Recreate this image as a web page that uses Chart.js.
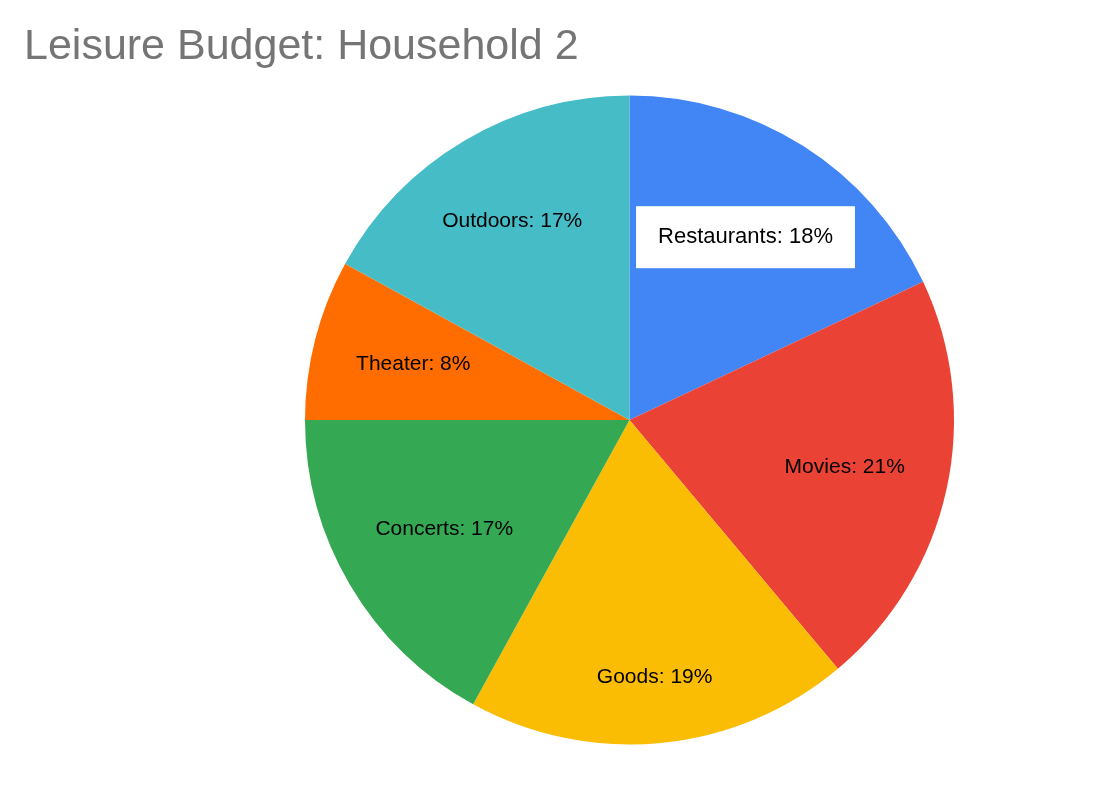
<!DOCTYPE html>
<html>
<head>
<meta charset="utf-8">
<title>Leisure Budget: Household 2</title>
<script src="https://cdn.jsdelivr.net/npm/chart.js@4"></script>
<style>
  html, body { margin: 0; padding: 0; background: #ffffff; }
  #wrap { width: 1098px; height: 796px; }
</style>
</head>
<body>
<div id="wrap"><canvas id="pie" width="1098" height="796"></canvas></div>
<script>
const chartTitle = 'Leisure Budget: Household 2';
const categories = ['Restaurants', 'Movies', 'Goods', 'Concerts', 'Theater', 'Outdoors'];
const shares = [18.0, 20.9, 19.1, 17.0, 8.0, 17.0];
const sliceColors = ['#4285F4', '#EA4335', '#FBBC04', '#34A853', '#FF6D01', '#46BDC6'];
const highlighted = 0;

const FONT = 'Arial, "Liberation Sans", sans-serif';

// title top-left, like the sheets chart header
const titlePlugin = {
    id: 'sheetTitle',
    afterDraw(chart) {
        const ctx = chart.ctx;
        ctx.save();
        ctx.font = '43px ' + FONT;
        ctx.fillStyle = '#757575';
        ctx.textAlign = 'left';
        ctx.textBaseline = 'alphabetic';
        ctx.fillText(chartTitle, 24, 59);
        ctx.restore();
    }
};

// "Name: NN%" inside each slice; the label slides along the mid angle
// until its outer corner touches a circle at ~87% of the radius
const sliceLabels = {
    id: 'sliceLabels',
    afterDatasetsDraw(chart) {
        const ctx = chart.ctx;
        const meta = chart.getDatasetMeta(0);
        const data = chart.data.datasets[0].data;
        const total = data.reduce((a, b) => a + b, 0);

        ctx.save();
        ctx.textAlign = 'center';
        ctx.textBaseline = 'middle';

        meta.data.forEach((arc, i) => {
            const p = arc.getProps(['x', 'y', 'startAngle', 'endAngle', 'outerRadius'], true);
            const mid = (p.startAngle + p.endAngle) / 2;
            const ux = Math.cos(mid);
            const uy = Math.sin(mid);
            const text = chart.data.labels[i] + ': ' + Math.round(data[i] / total * 100) + '%';

            ctx.font = (i === highlighted ? '22px ' : '21px ') + FONT;
            const hw = ctx.measureText(text).width / 2;
            const hh = 12;
            const reach = p.outerRadius * 0.868;
            const b = Math.abs(ux) * hw + Math.abs(uy) * hh;
            const c = hw * hw + hh * hh - reach * reach;
            const t = -b + Math.sqrt(b * b - c);

            const x = p.x + ux * t;
            const y = p.y + uy * t;

            if (i === highlighted) {
                const w = hw * 2 + 44;
                const h = 62;
                ctx.fillStyle = '#ffffff';
                ctx.fillRect(x - w / 2, y - h / 2, w, h);
            }
            ctx.fillStyle = '#000000';
            ctx.fillText(text, x, y);
        });
        ctx.restore();
    }
};

new Chart(document.getElementById('pie'), {
    type: 'pie',
    data: {
        labels: categories,
        datasets: [{
            data: shares,
            backgroundColor: sliceColors,
            borderWidth: 0,
            hoverOffset: 0
        }]
    },
    options: {
        responsive: false,
        animation: false,
        layout: {
            padding: { left: 161, right: 0, top: 95.5, bottom: 51.5 }
        },
        plugins: {
            legend: { display: false },
            tooltip: { enabled: false },
            title: { display: false }
        }
    },
    plugins: [sliceLabels, titlePlugin]
});
</script>
</body>
</html>
